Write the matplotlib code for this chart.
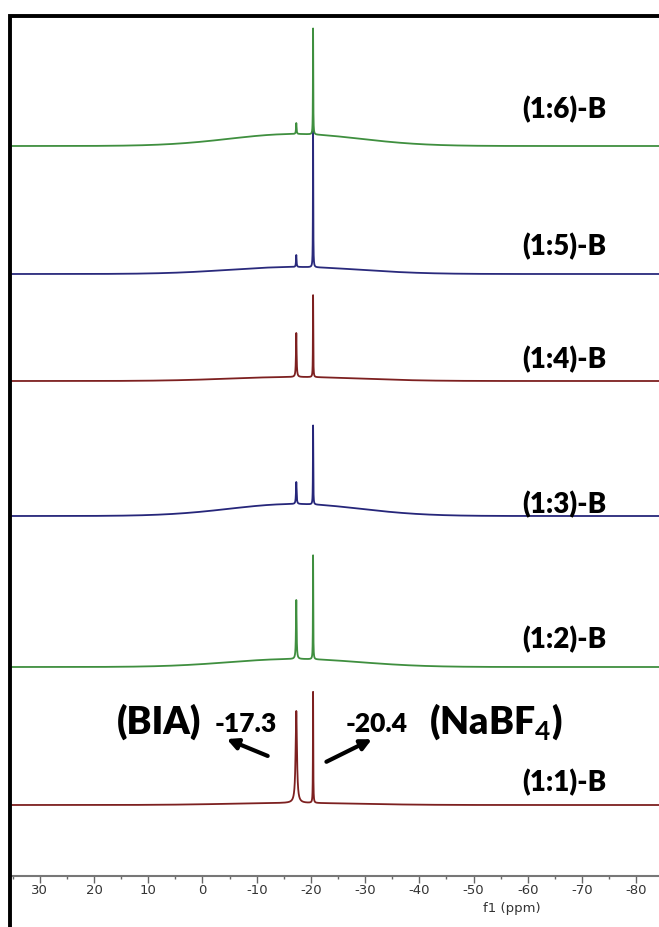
import numpy as np
import matplotlib
matplotlib.use("Agg")
import matplotlib.pyplot as plt
from matplotlib.lines import Line2D

plt.rcParams['mathtext.fontset'] = 'custom'
plt.rcParams['mathtext.rm'] = 'Lato:bold'
plt.rcParams['mathtext.bf'] = 'Lato:bold'
plt.rcParams['axes.unicode_minus'] = False

# 11B spectra, stacked from bottom (1:1) to top (1:6)
names = ['(1:1)-B', '(1:2)-B', '(1:3)-B', '(1:4)-B', '(1:5)-B', '(1:6)-B']
colors = ['#7d2020', '#3f8f3f', '#26267a', '#7d2020', '#2a2a7c', '#3f8f3f']
offsets = [71, 209, 360, 495, 602, 730]          # baseline of each trace
label_y = [93, 236, 371, 516, 629, 766]

bia_ppm = -17.3
nabf4_ppm = -20.4
bia_height = [92, 59, 22, 44, 12, 11]
bia_width = [0.3, 0.14, 0.14, 0.14, 0.12, 0.12]
nabf4_height = [111, 104, 79, 82, 138, 106]
nabf4_width = [0.07, 0.07, 0.07, 0.07, 0.07, 0.07]

# broad glass background under the peaks
hump_center = -17.0
hump_sigma = 12.0
hump_height = [2, 8, 12, 4, 7, 12]

ppm = np.linspace(35.5, -85.0, 48201)


def lorentz(x, x0, h, fwhm):
    g = fwhm / 2.0
    return h * g**2 / ((x - x0)**2 + g**2)


fig = plt.figure(figsize=(6.59, 9.27), dpi=100)
ax = fig.add_axes([10 / 659, 51 / 927, 1 - 10 / 659, 860 / 927])

for i in range(len(names)):
    y = offsets[i] + hump_height[i] * np.exp(-0.5 * ((ppm - hump_center) / hump_sigma)**2)
    y = y + lorentz(ppm, bia_ppm, bia_height[i], bia_width[i])
    y = y + lorentz(ppm, nabf4_ppm, nabf4_height[i], nabf4_width[i])
    ax.plot(ppm, y, color=colors[i], lw=1.3)
    ax.text(-59.0, label_y[i], names[i], fontsize=20, fontweight='heavy',
            family='Lato', ha='left', va='center')

# peak assignments on the bottom trace
ax.text(8.0, 154, '(BIA)', fontsize=27, fontweight='heavy', family='Lato',
        ha='center', va='center')
ax.text(-8.0, 152, '-17.3', fontsize=19, fontweight='heavy', family='Lato',
        ha='center', va='center')
ax.text(-32.1, 152, '-20.4', fontsize=19, fontweight='heavy', family='Lato',
        ha='center', va='center')
ax.text(-54.1, 154, r'(NaBF$_\mathrm{4}$)', fontsize=27, fontweight='heavy',
        family='Lato', ha='center', va='center')
ax.annotate('', xy=(-4.0, 138), xytext=(-12.5, 119),
            arrowprops=dict(arrowstyle='-|>', lw=3, color='black', mutation_scale=16))
ax.annotate('', xy=(-31.7, 138), xytext=(-22.4, 113),
            arrowprops=dict(arrowstyle='-|>', lw=3, color='black', mutation_scale=16))

ax.set_xlim(35.5, -84.2)
ax.set_ylim(0, 860)
ax.set_xticks(np.arange(30, -81, -10))
ax.set_xticks(np.arange(35, -85, -5), minor=True)
ax.set_yticks([])
ax.tick_params(axis='x', which='major', length=5, width=1, color='#666666',
               labelsize=9.5, labelcolor='#333333', pad=1)
ax.tick_params(axis='x', which='minor', length=2.5, width=1, color='#666666')
for s in ['left', 'right', 'top']:
    ax.spines[s].set_visible(False)
ax.spines['bottom'].set_color('#777777')
ax.spines['bottom'].set_linewidth(1.5)
ax.set_xlabel('f1 (ppm)', fontsize=9.5, color='#333333')
ax.xaxis.set_label_coords((35.5 + 57.0) / (35.5 + 84.2), -0.03)
ax.patch.set_alpha(0)

# black frame on the left and top
fig.add_artist(Line2D([9.5 / 659, 9.5 / 659, 1.0], [0.0, 1 - 15.5 / 927, 1 - 15.5 / 927],
                      transform=fig.transFigure, color='black', lw=2.8,
                      solid_joinstyle='miter'))

fig.savefig('out.png', dpi=100)
